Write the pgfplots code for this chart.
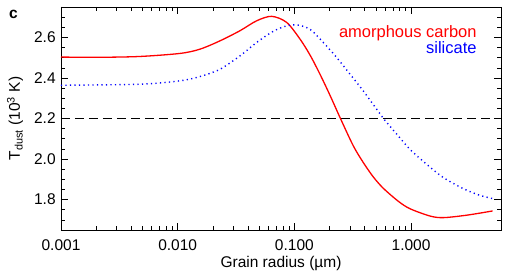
\documentclass[border=0pt]{standalone}
\usepackage{fontspec}
\setmainfont{Liberation Sans}
\usepackage{pgfplots}
\pgfplotsset{compat=1.18}
\begin{document}
\fontsize{15.5bp}{18bp}\selectfont
\begin{tikzpicture}
\begin{axis}[
  scale only axis, width=440bp, height=223bp,
  xmode=log, xmin=0.001, xmax=5.9, ymin=1.65, ymax=2.75,
  xtick={0.001,0.01,0.1,1}, xticklabels={0.001,0.010,0.100,1.000},
  ytick={1.8,2.0,2.2,2.4,2.6}, yticklabels={1.8,2.0,2.2,2.4,2.6},
  minor ytick={1.65,1.7,1.75,1.85,1.9,1.95,2.05,2.1,2.15,2.25,2.3,2.35,2.45,2.5,2.55,2.65,2.7,2.75},
  tick align=inside, major tick length=7bp, minor tick length=4bp,
  every tick/.style={black, line width=0.6bp},
  axis line style={line width=0.7bp},
  xticklabel style={yshift=-4bp},
  xlabel={Grain radius (µm)},
  xlabel style={at={(axis description cs:0.5,0)}, anchor=center, yshift=-33bp},
  ylabel={T\textsubscript{dust} (10\textsuperscript{3} K)},
  ylabel style={at={(axis description cs:0,0.5)}, anchor=center, rotate=0, yshift=46bp},
  /pgf/number format/assume math mode=true,
  clip=true,
]
\addplot[black, line width=1.3bp, dash pattern=on 9bp off 5bp] coordinates {(0.001,2.2) (5.9,2.2)};
\addplot[red, line width=1.3bp, smooth] coordinates {
(0.001,2.503) (0.00216,2.502) (0.00475,2.506) (0.01047,2.521) (0.01552,2.542) (0.02303,2.583) (0.0342,2.633) (0.0475,2.682) (0.0639,2.704) (0.0859,2.674) (0.1117,2.592) (0.1362,2.513) (0.1656,2.419) (0.2018,2.315) (0.2483,2.200) (0.320,2.065) (0.3895,1.983) (0.4744,1.912) (0.578,1.856) (0.7767,1.792) (0.9786,1.755) (1.452,1.719) (1.888,1.711) (2.993,1.723) (5.0,1.744)};
\addplot[blue, line width=1.4bp, smooth, dash pattern=on 1.2bp off 3.3bp] coordinates {
(0.001,2.364) (0.00475,2.369) (0.01047,2.386) (0.01552,2.407) (0.02303,2.443) (0.0342,2.509) (0.0475,2.575) (0.0659,2.630) (0.0859,2.657) (0.1047,2.662) (0.1362,2.640) (0.1768,2.575) (0.2304,2.501) (0.2996,2.419) (0.3895,2.336) (0.507,2.246) (0.578,2.201) (0.7767,2.114) (0.9786,2.048) (1.360,1.974) (1.888,1.909) (2.802,1.854) (3.89,1.821) (5.0,1.805)};
\node[anchor=east, red, inner sep=0pt, font=\fontsize{16.5bp}{18bp}\selectfont] at (rel axis cs:0.945,0.883) {amorphous carbon};
\node[anchor=east, blue, inner sep=0pt, font=\fontsize{16.5bp}{18bp}\selectfont] at (rel axis cs:0.945,0.816) {silicate};
\end{axis}
\node[font=\bfseries\fontsize{15.5bp}{18bp}\selectfont, inner sep=0pt] at ([shift={(-47.5bp,-7bp)}]current axis.north west) {c};
\pgfresetboundingbox
\useasboundingbox ([shift={(-61bp,-45bp)}]current axis.south west) rectangle ([shift={(10bp,7bp)}]current axis.north east);
\end{tikzpicture}
\end{document}
